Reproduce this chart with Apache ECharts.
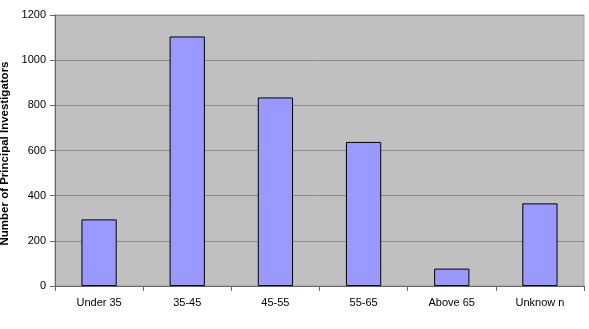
<!DOCTYPE html>
<html>
<head>
<meta charset="utf-8">
<script src="https://cdn.jsdelivr.net/npm/echarts@6/dist/echarts.min.js"></script>
<style>
  html, body { margin: 0; padding: 0; background: #fff; }
  #chart { width: 589px; height: 329px; }
</style>
</head>
<body>
<div id="chart"></div>
<script>
// age groups
const categories = ['Under 35', '35-45', '45-55', '55-65', 'Above 65', 'Unknow n']
// number of PIs per group
const counts = [295, 1105, 835, 638, 77, 366]
const yMin = 0
const yMax = 1200
const yStep = 200

const chart = echarts.init(document.getElementById('chart'))
chart.setOption({
  animation: false,
  textStyle: { fontFamily: 'Liberation Sans, Arial, sans-serif' },
  grid: {
    left: 55,
    right: 5,
    top: 15,
    bottom: 43,
    outerBoundsMode: 'none',
    containLabel: false,
    show: true,
    backgroundColor: '#C0C0C0',
    borderColor: '#A0A0A0',
    borderWidth: 1
  },
  xAxis: {
    type: 'category',
    data: categories,
    axisLine: { lineStyle: { color: '#666', width: 1 } },
    axisTick: { show: true, length: 5, lineStyle: { color: '#666' } },
    axisLabel: { color: '#000', fontSize: 11, margin: 11 }
  },
  yAxis: {
    type: 'value',
    min: yMin,
    max: yMax,
    interval: yStep,
    name: 'Number of Principal Investigators',
    nameLocation: 'middle',
    nameGap: 41,
    nameTextStyle: { color: '#000', fontSize: 11.5, fontWeight: 'bold', padding: [0, 6, 0, 0] },
    axisLine: { show: true, lineStyle: { color: '#666', width: 1 } },
    axisTick: { show: true, length: 5, lineStyle: { color: '#666' } },
    axisLabel: { color: '#000', fontSize: 11, margin: 9, formatter: v => String(v) },
    splitLine: { lineStyle: { color: '#8A8A8A', width: 1 } }
  },
  series: [{
    type: 'bar',
    data: counts,
    barWidth: '40%',
    itemStyle: { color: '#9999FF', borderColor: '#000', borderWidth: 1 }
  }]
})
</script>
</body>
</html>
